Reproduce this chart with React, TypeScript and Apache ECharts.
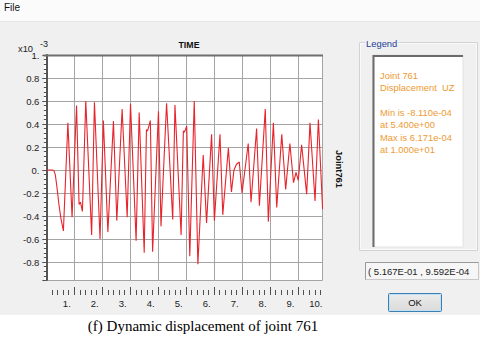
import React, { useEffect, useRef } from "react";
import * as echarts from "echarts";

// Time (s) and displacement UZ (x10^-3)
const times = [0, 0.1, 0.2, 0.27, 0.32, 0.38, 0.45, 0.52, 0.61, 0.77, 0.92, 1.08, 1.17, 1.22, 1.29, 1.41, 1.62, 1.72, 1.92, 2.04, 2.2, 2.4, 2.52, 2.71, 2.89, 3.01, 3.21, 3.32, 3.5, 3.58, 3.62, 3.72, 3.8, 4.01, 4.1, 4.3, 4.52, 4.6, 4.82, 4.9, 4.94, 5.02, 5.13, 5.29, 5.42, 5.61, 5.73, 5.91, 6.01, 6.21, 6.31, 6.51, 6.62, 6.71, 6.8, 6.9, 7.0, 7.22, 7.32, 7.52, 7.62, 7.83, 7.94, 8.12, 8.24, 8.42, 8.56, 8.71, 8.84, 8.93, 9.01, 9.13, 9.31, 9.43, 9.61, 9.73, 9.88];
const uz = [0, 0, 0, -0.005, -0.04, -0.15, -0.3, -0.42, -0.53, 0.41, -0.41, 0.56, -0.3, -0.28, -0.36, 0.6, -0.565, 0.59, -0.6, 0.43, -0.54, 0.425, -0.44, 0.53, -0.41, 0.575, -0.615, 0.5, -0.72, 0.35, 0.34, 0.43, -0.71, 0.51, -0.49, 0.58, -0.43, 0.565, -0.565, 0.34, 0.33, 0.38, -0.75, 0.6, -0.82, 0.13, -0.46, 0.31, -0.44, 0.31, -0.39, 0.19, -0.19, 0, 0.05, 0.07, -0.2, 0.23, -0.28, 0.36, -0.31, 0.53, -0.45, 0.41, -0.325, 0.31, -0.17, 0.23, -0.11, -0.02, -0.09, 0.22, -0.21, 0.41, -0.27, 0.44, -0.34];

const legendLines = ["Joint 761", "Displacement  UZ", "", "Min is -8.110e-04", "at 5.400e+00", "Max is 6.171e-04", "at 1.000e+01"];
const legendLineY = [75, 87.5, 100, 112.5, 124.8, 137, 149.3];
const coordText = "( 5.167E-01 , 9.592E-04";
const caption = "(f) Dynamic displacement of joint 761";

const SANS = "'Liberation Sans', Arial, sans-serif";

export default function App() {
  const ref = useRef<HTMLDivElement>(null);
  useEffect(() => {
    if (!ref.current) return;
    const chart = echarts.init(ref.current, null, { renderer: "svg" });
    const tickCol = "#505050";
    const option: any = {
      animation: false,
      backgroundColor: "#f0f0f0",
      grid: [
        { left: 46.35, top: 55, width: 276.35, height: 225, outerBoundsMode: "none" },
        { left: 46.35, top: 285, width: 279.6, height: 10, outerBoundsMode: "none" },
      ],
      xAxis: [
        {
          gridIndex: 0, type: "value", min: 0, max: 9.884, splitNumber: 10,
          axisLine: { show: false }, axisTick: { show: false }, axisLabel: { show: false },
          splitLine: { show: true, showMinLine: false, lineStyle: { color: "#a4a4a4", width: 1 } },
        },
        {
          gridIndex: 1, type: "value", min: 0, max: 10, interval: 1, position: "bottom",
          axisLine: { show: false },
          axisTick: { show: true, inside: true, length: 8, lineStyle: { color: tickCol, width: 1 } },
          minorTick: { show: true, splitNumber: 5, length: 5, lineStyle: { color: tickCol, width: 1 } },
          splitLine: { show: false },
          axisLabel: {
            show: true, margin: 3, align: "right", verticalAlign: "top", padding: [0, 3.5, 0, 0],
            fontSize: 9.5, color: "#222", fontFamily: SANS,
            formatter: (v: number) => (v === 0 ? "" : v + "."),
          },
        },
      ],
      yAxis: [
        {
          gridIndex: 0, type: "value", min: -0.9565, max: 1.0, splitNumber: 10, offset: 2,
          axisLine: { show: true, lineStyle: { color: "#555", width: 2 } },
          axisTick: { show: true, length: 4, lineStyle: { color: tickCol, width: 1 } },
          minorTick: { show: true, splitNumber: 5, length: 2.5, lineStyle: { color: tickCol, width: 1 } },
          splitLine: { show: true, lineStyle: { color: "#a4a4a4", width: 1 } },
          axisLabel: {
            show: true, margin: 5, fontSize: 9.5, color: "#222", fontFamily: SANS,
            padding: [6, 0, 0, 0],
            formatter: (v: number) => {
              if (Math.abs(v * 5 - Math.round(v * 5)) > 1e-6) return "";
              if (Math.abs(v) < 1e-9) return "0.";
              if (Math.abs(v - 1) < 1e-9) return "1.";
              return v.toFixed(1);
            },
          },
        },
        { gridIndex: 1, type: "value", show: false },
      ],
      series: [
        {
          type: "line", xAxisIndex: 0, yAxisIndex: 0, z: 3,
          data: times.map((t, i) => [t, uz[i]]),
          showSymbol: false, symbol: "none", smooth: false,
          lineStyle: { color: "#e8232b", width: 1.1 },
        },
      ],
      graphic: [
        // menu bar
        { type: "rect", z: -2, shape: { x: 0, y: 0, width: 480, height: 21 }, style: { fill: "#fbfbfb" } },
        { type: "line", z: -2, shape: { x1: 0, y1: 21.5, x2: 480, y2: 21.5 }, style: { stroke: "#e4e4e4", lineWidth: 1 } },
        { type: "text", x: 4, y: 7.5, style: { text: "File", fontSize: 10, fill: "#111", fontFamily: SANS, verticalAlign: "middle" } },
        // plot background
        { type: "rect", z: -1, shape: { x: 44.3, y: 55, width: 278.4, height: 225 }, style: { fill: "#ffffff" } },
        { type: "line", z: 5, shape: { x1: 43.3, y1: 55.5, x2: 323, y2: 55.5 }, style: { stroke: "#6e6e6e", lineWidth: 2 } },
        // hide ruler ticks at 0 and 10
        { type: "rect", z: 10, shape: { x: 42, y: 284, width: 7, height: 12 }, style: { fill: "#f0f0f0" } },
        { type: "rect", z: 10, shape: { x: 324, y: 284, width: 6, height: 12 }, style: { fill: "#f0f0f0" } },
        // axis texts
        { type: "text", x: 18, y: 49, style: { text: "x10", fontSize: 9.3, fill: "#222", fontFamily: SANS, verticalAlign: "middle" } },
        { type: "text", x: 40, y: 43.5, style: { text: "-3", fontSize: 9, fill: "#222", fontFamily: SANS, verticalAlign: "middle" } },
        { type: "text", x: 189, y: 45, style: { text: "TIME", fontSize: 8.8, fontWeight: "bold", fill: "#111", fontFamily: SANS, align: "center", verticalAlign: "middle" } },
        { type: "text", x: 339, y: 169, rotation: -Math.PI / 2, style: { text: "Joint761", fontSize: 9.4, fontWeight: "bold", fill: "#111", fontFamily: SANS, align: "center", verticalAlign: "middle" } },
        // legend group box
        { type: "rect", shape: { x: 359.5, y: 42.5, width: 118, height: 208 }, style: { fill: "none", stroke: "#d2d2d2", lineWidth: 1 } },
        { type: "rect", shape: { x: 360.5, y: 43.5, width: 116, height: 206 }, style: { fill: "none", stroke: "#fafafa", lineWidth: 1 } },
        { type: "text", x: 365, y: 43, z: 2, style: { text: "Legend", fontSize: 9.4, fill: "#23409a", fontFamily: SANS, verticalAlign: "middle", backgroundColor: "#f0f0f0", padding: [1, 1, 1, 1] } },
        { type: "rect", shape: { x: 372.5, y: 55, width: 90.5, height: 192 }, style: { fill: "#ffffff", stroke: "#e2e2e2", lineWidth: 1 } },
        { type: "polyline", shape: { points: [[373.5, 247], [373.5, 56], [463, 56]] }, style: { fill: "none", stroke: "#6b6b6b", lineWidth: 2 } },
        ...legendLines.map((t, i) => ({
          type: "text", x: 380, y: legendLineY[i],
          style: { text: t, fontSize: 9.4, fill: "#ee9a32", fontFamily: SANS, verticalAlign: "middle" },
        })),
        // coordinate box
        { type: "rect", shape: { x: 365.5, y: 262.5, width: 113, height: 17 }, style: { fill: "#f6f6f6", stroke: "#c8c8c8", lineWidth: 1 } },
        { type: "polyline", shape: { points: [[365.5, 279.5], [365.5, 262.5], [478.5, 262.5]] }, style: { fill: "none", stroke: "#9a9a9a", lineWidth: 1 } },
        { type: "text", x: 368, y: 271, style: { text: coordText, fontSize: 9.5, fill: "#222", fontFamily: SANS, verticalAlign: "middle" } },
        // OK button
        {
          type: "rect", shape: { x: 388.5, y: 293.5, width: 53, height: 18, r: 1 },
          style: {
            fill: new echarts.graphic.LinearGradient(0, 0, 0, 1, [{ offset: 0, color: "#ececec" }, { offset: 1, color: "#dadada" }]),
            stroke: "#3c7fb1", lineWidth: 1,
          },
        },
        { type: "rect", shape: { x: 389.5, y: 294.5, width: 51, height: 16 }, style: { fill: "none", stroke: "#bfe0f5", lineWidth: 1 } },
        { type: "text", x: 415, y: 302.5, style: { text: "OK", fontSize: 9.5, fill: "#111", fontFamily: SANS, align: "center", verticalAlign: "middle" } },
        // caption
        { type: "rect", shape: { x: 0, y: 315, width: 480, height: 24 }, style: { fill: "#ffffff" } },
        { type: "text", x: 203, y: 326, style: { text: caption, fontSize: 15, fill: "#000", fontFamily: "'Liberation Serif', 'Times New Roman', serif", align: "center", verticalAlign: "middle" } },
      ],
    };
    chart.setOption(option);
    return () => chart.dispose();
  }, []);
  return <div ref={ref} style={{ position: "fixed", left: 0, top: 0, width: 480, height: 339 }} />;
}
